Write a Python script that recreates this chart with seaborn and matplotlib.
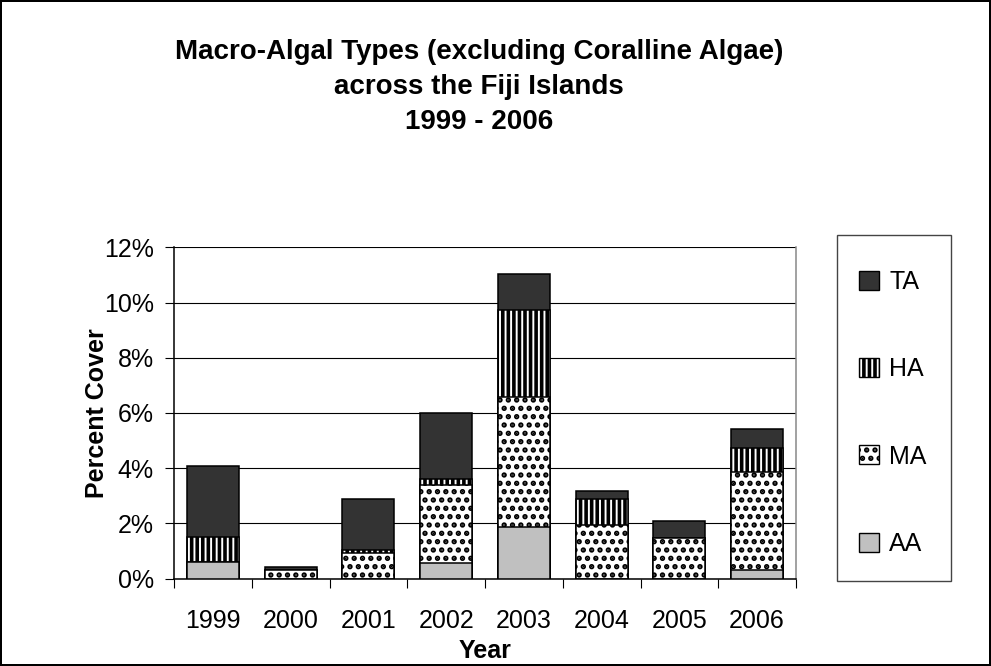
import matplotlib
matplotlib.use("Agg")
import matplotlib.pyplot as plt
import seaborn as sns
import pandas as pd
import numpy as np
from matplotlib.patches import Patch, Rectangle

years = ["1999", "2000", "2001", "2002", "2003", "2004", "2005", "2006"]
AA = [0.60, 0.00, 0.00, 0.55, 1.88, 0.00, 0.00, 0.31]
MA = [0.00, 0.30, 0.92, 2.83, 4.71, 1.94, 1.46, 3.56]
HA = [0.92, 0.00, 0.12, 0.23, 3.14, 0.93, 0.00, 0.87]
TA = [2.56, 0.12, 1.84, 2.40, 1.31, 0.31, 0.63, 0.68]
series_names = ["TA", "HA", "MA", "AA"]

sns.set_theme(style="white")
plt.rcParams["font.family"] = ["Liberation Sans", "DejaVu Sans"]
plt.rcParams["hatch.linewidth"] = 2.6
for k in ["text.color", "axes.labelcolor", "xtick.color", "ytick.color"]:
    plt.rcParams[k] = "black"

df = pd.DataFrame({"Year": years, "AA": AA, "MA": MA, "HA": HA, "TA": TA})
df["c_AA"] = df["AA"]
df["c_MA"] = df["c_AA"] + df["MA"]
df["c_HA"] = df["c_MA"] + df["HA"]
df["c_TA"] = df["c_HA"] + df["TA"]

fig = plt.figure(figsize=(9.91, 6.66), dpi=100, linewidth=1.5, edgecolor="black")
ax = fig.add_axes([174/991, 1-578.6/666, (796-174)/991, (578.6-247.4)/666])

styles = {
    "TA": dict(color="#333333", hatch=None),
    "HA": dict(color="white", hatch="|||"),
    "MA": dict(color="white", hatch=".."),
    "AA": dict(color="#c0c0c0", hatch=None),
}
for name in ["TA", "HA", "MA", "AA"]:
    st = styles[name]
    sns.barplot(data=df, x="Year", y="c_" + name, ax=ax, color=st["color"],
                edgecolor="black", linewidth=1.1, width=0.67, hatch=st["hatch"],
                saturation=1, errorbar=None, zorder=3)

fs = 18
ax.set_ylim(0, 12)
ax.set_xlim(-0.5, 7.5)
ax.set_yticks(np.arange(0, 13, 2))
ax.set_yticklabels([f"{v}%" for v in range(0, 13, 2)], fontsize=fs)
ax.set_xticks(np.arange(-0.5, 8, 1), minor=False)
ax.set_xticklabels([])
ax.set_xticks(np.arange(0, 8), minor=True)
ax.set_xticklabels(years, minor=True, fontsize=fs)
ax.tick_params(axis="x", which="major", length=6.5, width=0.8, color="black", direction="out", bottom=True)
ax.tick_params(axis="x", which="minor", length=0, pad=22)
ax.tick_params(axis="y", length=6.5, width=0.8, color="black", direction="out", left=True, pad=8)
ax.yaxis.grid(True, color="black", linewidth=0.8)
ax.set_axisbelow(True)
for s in ["left", "bottom"]:
    ax.spines[s].set_color("black")
    ax.spines[s].set_linewidth(1.1)
ax.spines["right"].set_color("#888888")
ax.spines["right"].set_linewidth(1.1)
ax.spines["top"].set_visible(False)
ax.set_xlabel("Year", fontsize=fs, fontweight="bold")
ax.xaxis.label.set_va("center")
ax.xaxis.set_label_coords(0.5, (578.6-651)/331.2)
ax.set_ylabel("Percent Cover", fontsize=fs, fontweight="bold")
ax.yaxis.label.set_va("center")
ax.yaxis.set_label_coords((97-174)/622, 0.5)

tfs = 20
fig.text(479/991, 1-52/666, "Macro-Algal Types (excluding Coralline Algae)", ha="center", va="center",
         fontsize=tfs, fontweight="bold")
fig.text(479/991, 1-87/666, "across the Fiji Islands", ha="center", va="center",
         fontsize=tfs, fontweight="bold")
fig.text(479/991, 1-122/666, "1999 - 2006", ha="center", va="center",
         fontsize=tfs, fontweight="bold")

# legend box
fig.patches.append(Rectangle((837/991, 1-581/666), (951-837)/991, (581-235)/666,
                             transform=fig.transFigure, facecolor="white", edgecolor="#444444",
                             linewidth=1.0, zorder=1))
handles = [Patch(facecolor=styles[n]["color"], hatch=styles[n]["hatch"], edgecolor="black", label=n)
           for n in series_names]
leg = fig.legend(handles=handles, loc="upper left", bbox_to_anchor=(859/991, 1-270/666),
                 fontsize=fs, frameon=False, labelspacing=2.53,
                 handlelength=0.8, handleheight=0.8, handletextpad=0.4, borderpad=0,
                 borderaxespad=0)

fig.savefig("out.png", dpi=100, edgecolor=fig.get_edgecolor())
